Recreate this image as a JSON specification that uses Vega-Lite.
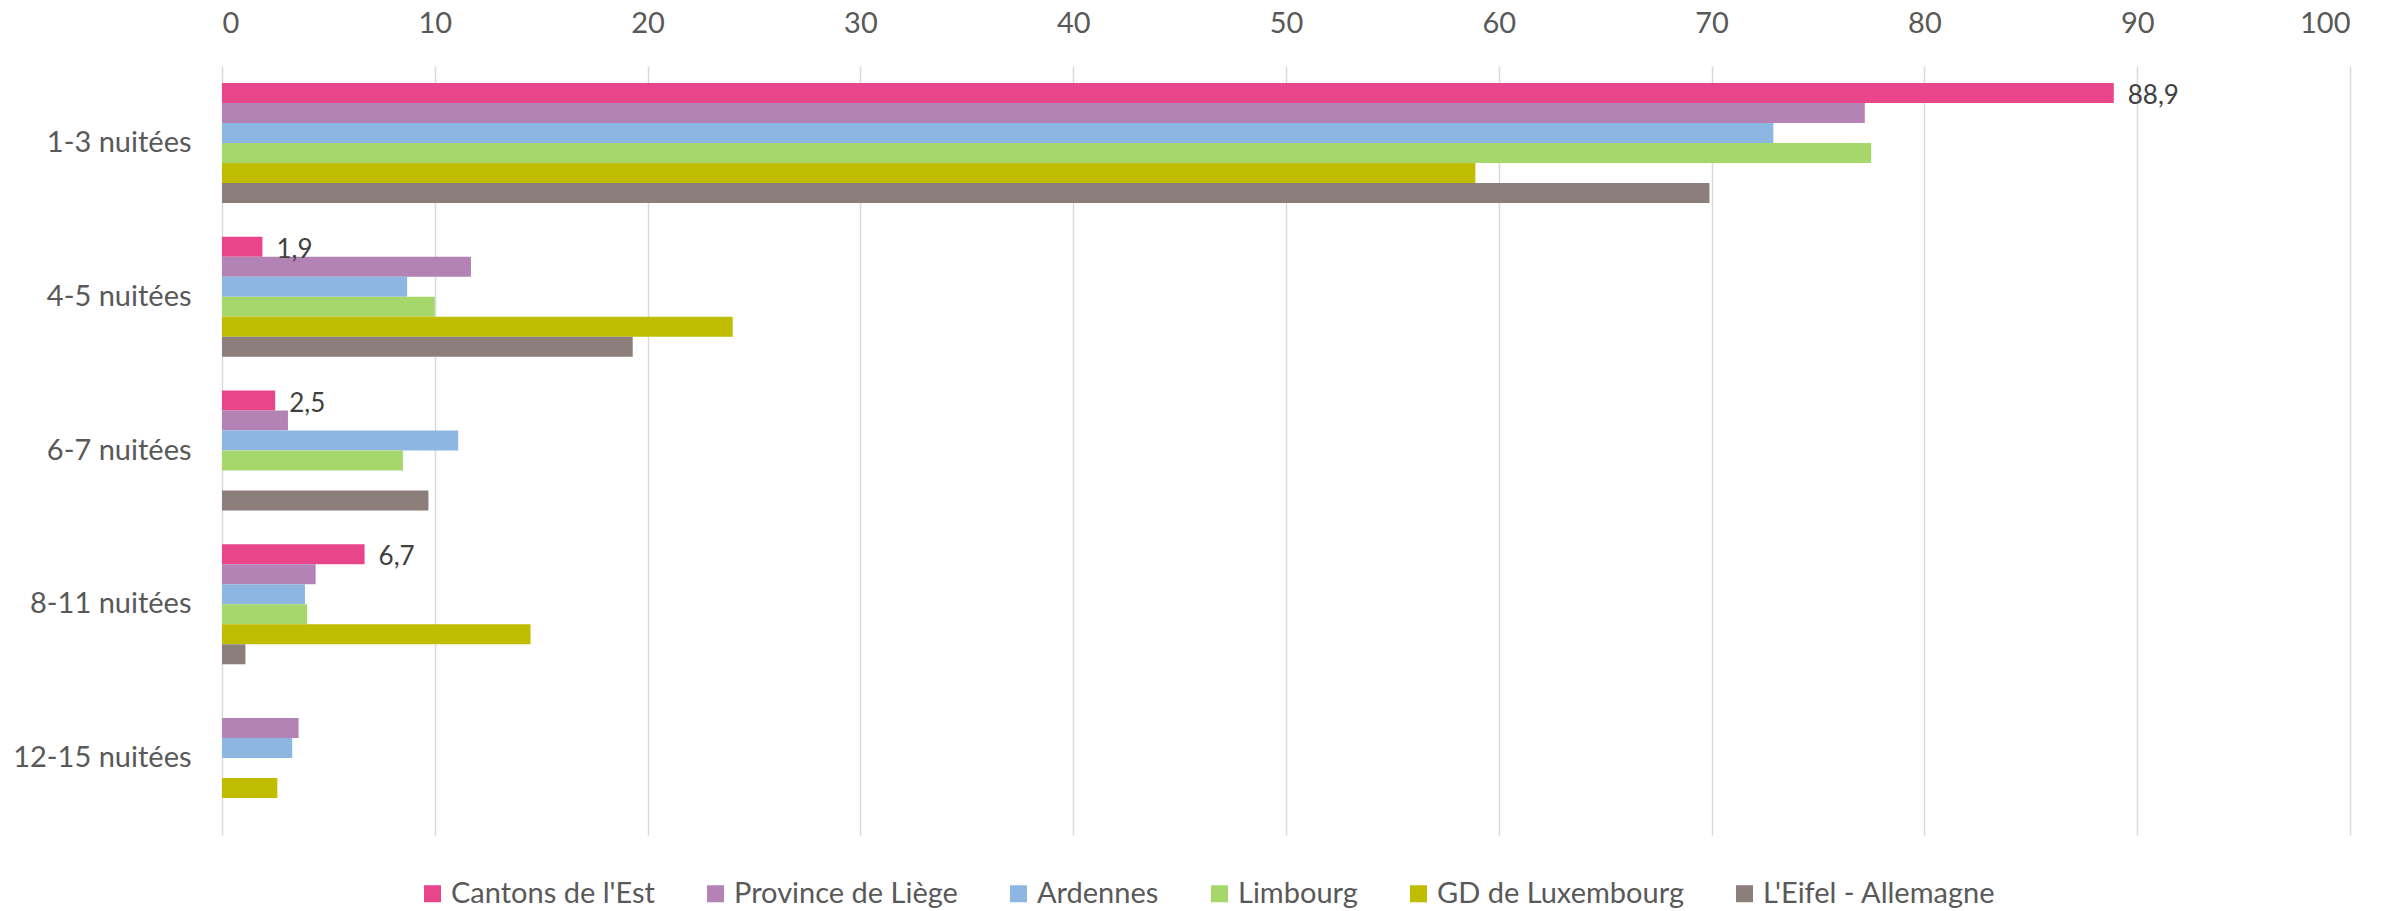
{
  "$schema": "https://vega.github.io/schema/vega-lite/v6.json",
  "autosize": {"type": "none"},
  "width": 2128,
  "height": 769,
  "padding": {"left": 222, "top": 66, "right": 52, "bottom": 76},
  "background": "white",
  "config": {
    "view": {"stroke": null},
    "font": "Lato",
    "locale": {"number": {"decimal": ",", "thousands": " ", "grouping": [3], "currency": ["", " €"]}}
  },
  "data": {
    "values": [
      {"duree": "1-3 nuitées", "region": "Cantons de l'Est", "value": 88.9},
      {"duree": "1-3 nuitées", "region": "Province de Liège", "value": 77.2},
      {"duree": "1-3 nuitées", "region": "Ardennes", "value": 72.9},
      {"duree": "1-3 nuitées", "region": "Limbourg", "value": 77.5},
      {"duree": "1-3 nuitées", "region": "GD de Luxembourg", "value": 58.9},
      {"duree": "1-3 nuitées", "region": "L'Eifel - Allemagne", "value": 69.9},
      {"duree": "4-5 nuitées", "region": "Cantons de l'Est", "value": 1.9},
      {"duree": "4-5 nuitées", "region": "Province de Liège", "value": 11.7},
      {"duree": "4-5 nuitées", "region": "Ardennes", "value": 8.7},
      {"duree": "4-5 nuitées", "region": "Limbourg", "value": 10.0},
      {"duree": "4-5 nuitées", "region": "GD de Luxembourg", "value": 24.0},
      {"duree": "4-5 nuitées", "region": "L'Eifel - Allemagne", "value": 19.3},
      {"duree": "6-7 nuitées", "region": "Cantons de l'Est", "value": 2.5},
      {"duree": "6-7 nuitées", "region": "Province de Liège", "value": 3.1},
      {"duree": "6-7 nuitées", "region": "Ardennes", "value": 11.1},
      {"duree": "6-7 nuitées", "region": "Limbourg", "value": 8.5},
      {"duree": "6-7 nuitées", "region": "L'Eifel - Allemagne", "value": 9.7},
      {"duree": "8-11 nuitées", "region": "Cantons de l'Est", "value": 6.7},
      {"duree": "8-11 nuitées", "region": "Province de Liège", "value": 4.4},
      {"duree": "8-11 nuitées", "region": "Ardennes", "value": 3.9},
      {"duree": "8-11 nuitées", "region": "Limbourg", "value": 4.0},
      {"duree": "8-11 nuitées", "region": "GD de Luxembourg", "value": 14.5},
      {"duree": "8-11 nuitées", "region": "L'Eifel - Allemagne", "value": 1.1},
      {"duree": "12-15 nuitées", "region": "Province de Liège", "value": 3.6},
      {"duree": "12-15 nuitées", "region": "Ardennes", "value": 3.3},
      {"duree": "12-15 nuitées", "region": "GD de Luxembourg", "value": 2.6}
    ]
  },
  "encoding": {
    "y": {
      "field": "duree",
      "type": "nominal",
      "sort": ["1-3 nuitées", "4-5 nuitées", "6-7 nuitées", "8-11 nuitées", "12-15 nuitées"],
      "scale": {"paddingInner": 0.22, "paddingOuter": 0.11},
      "axis": {
        "title": null,
        "domain": false,
        "ticks": false,
        "grid": false,
        "labelFontSize": 29,
        "labelColor": "#595959",
        "labelPadding": 31
      }
    },
    "yOffset": {
      "field": "region",
      "type": "nominal",
      "scale": {"domain": ["Cantons de l'Est", "Province de Liège", "Ardennes", "Limbourg", "GD de Luxembourg", "L'Eifel - Allemagne"], "paddingInner": 0, "paddingOuter": 0}
    }
  },
  "layer": [
    {
      "mark": {"type": "bar"},
      "encoding": {
        "x": {
          "field": "value",
          "type": "quantitative",
          "scale": {"domain": [0, 100], "nice": false},
          "axis": {
            "orient": "top",
            "title": null,
            "values": [0, 10, 20, 30, 40, 50, 60, 70, 80, 90, 100],
            "domain": false,
            "ticks": false,
            "grid": true,
            "gridColor": "#D9D9D9",
            "gridWidth": 1.5,
            "labelFontSize": 29,
            "labelColor": "#595959",
            "labelPadding": 28
          }
        },
        "color": {
          "field": "region",
          "type": "nominal",
          "scale": {
            "domain": ["Cantons de l'Est", "Province de Liège", "Ardennes", "Limbourg", "GD de Luxembourg", "L'Eifel - Allemagne"],
            "range": ["#E8458B", "#B283B4", "#8DB6E3", "#A6D76B", "#C0BD00", "#8C7F7B"]
          },
          "legend": {
            "title": null,
            "orient": "none",
            "legendX": 196,
            "legendY": 813,
            "direction": "horizontal",
            "symbolType": "square",
            "symbolSize": 289,
            "symbolStrokeWidth": 0,
            "labelFontSize": 29,
            "labelColor": "#595959",
            "labelLimit": 0,
            "labelOffset": 4,
            "columnPadding": 46
          }
        }
      }
    },
    {
      "transform": [{"filter": {"field": "region", "equal": "Cantons de l'Est"}}],
      "mark": {"type": "text", "align": "left", "baseline": "middle", "dx": 14, "dy": 3, "fontSize": 26, "color": "#404040"},
      "encoding": {
        "x": {"field": "value", "type": "quantitative"},
        "text": {"field": "value", "type": "quantitative", "format": ".1f"}
      }
    }
  ]
}
